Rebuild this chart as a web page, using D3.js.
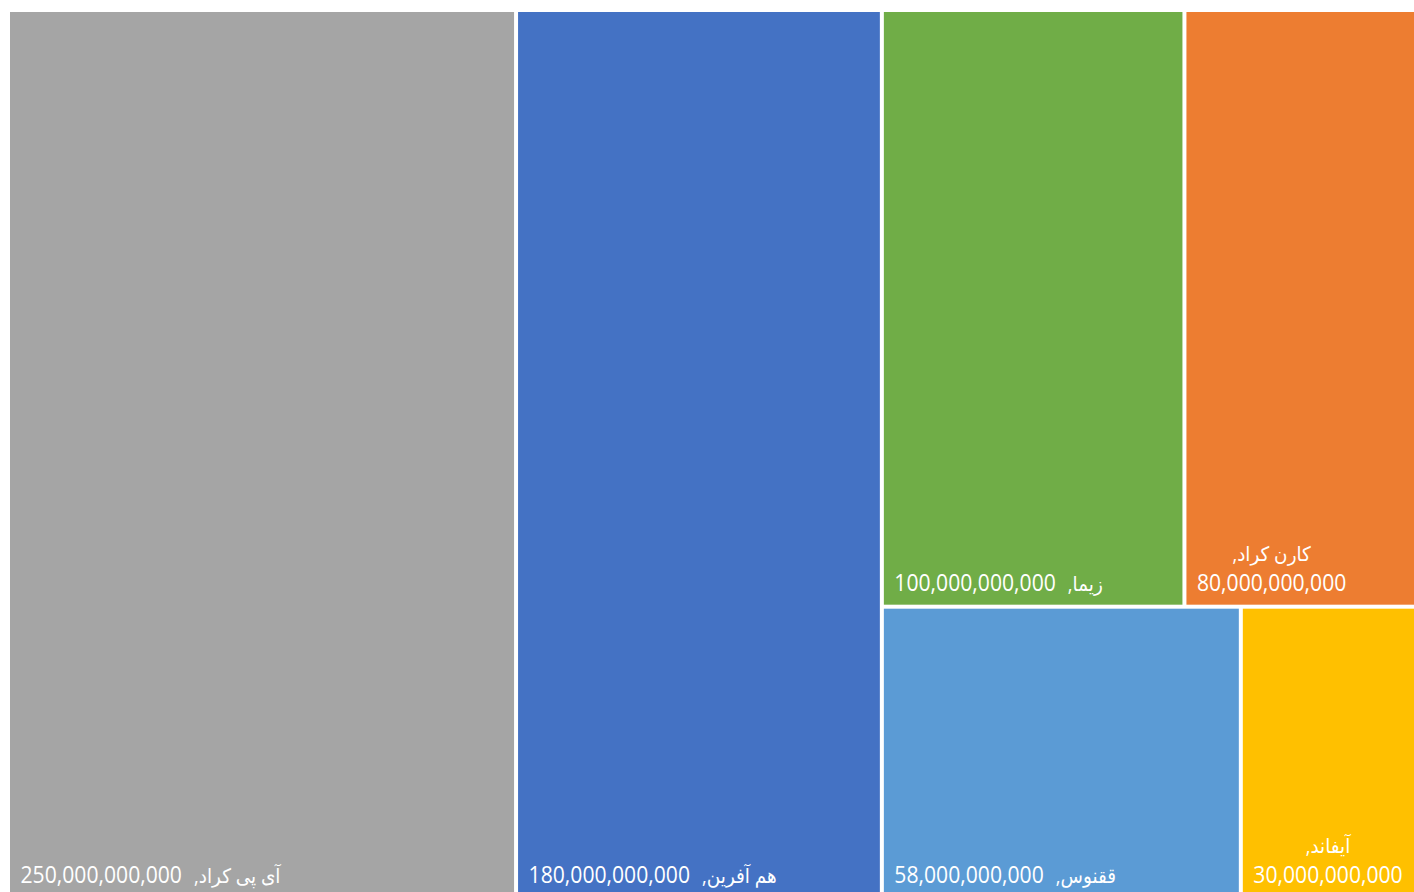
<!DOCTYPE html>
<html>
<head>
<meta charset="utf-8">
<script src="https://cdn.jsdelivr.net/npm/d3@7"></script>
<style>
  html, body { margin: 0; padding: 0; background: #ffffff; overflow: hidden; }
  svg { display: block; }
  text { font-family: 'Open Sans', 'DejaVu Sans', sans-serif; fill: #ffffff; }
</style>
</head>
<body>
<svg id="chart" width="1414" height="892"></svg>
<script>
// ---- data ----
const categories = ["آی پی کراد", "هم آفرین", "زیما", "کارن کراد", "ققنوس", "آیفاند"];
const values = [250000000000, 180000000000, 100000000000, 80000000000, 58000000000, 30000000000];
const colors = ["#A5A5A5", "#4472C4", "#70AD47", "#ED7D31", "#5B9BD5", "#FFC000"];
// nesting of the tiles (indexes into the arrays above)
const nesting = [0, 1, [[2, 3], [4, 5]]];

// ---- build hierarchy ----
function build(item) {
  if (Array.isArray(item)) return { children: item.map(build) };
  return { name: categories[item], value: values[item], color: colors[item] };
}
const root = d3.hierarchy({ children: nesting.map(build) })
  .sum(d => d.value || 0);

const W = 1414.5, H = 884.4, X0 = 10, Y0 = 12;
const tile = (node, x0, y0, x1, y1) =>
  (node.depth % 2 === 0 ? d3.treemapDice : d3.treemapSlice)(node, x0, y0, x1, y1);

d3.treemap().size([W, H]).paddingInner(4).tile(tile)(root);

const svg = d3.select("#chart");
const g = svg.append("g").attr("transform", `translate(${X0},${Y0})`);

const leaves = root.leaves();
const fmt = d3.format(",");

const cell = g.selectAll("g.cell").data(leaves).join("g").attr("class", "cell");
cell.append("rect")
  .attr("x", d => d.x0).attr("y", d => d.y0)
  .attr("width", d => d.x1 - d.x0).attr("height", d => d.y1 - d.y0)
  .attr("fill", d => d.data.color);

const FS = 23, FS_NAME = 20, SX = 0.92, PAD = 10.5, BOTTOM = 13.5, GAP = 12, LINE = 30;

cell.each(function(d) {
  const lab = d3.select(this).append("g")
    .attr("transform", `translate(${d.x0 + PAD},${d.y1 - BOTTOM}) scale(${SX},1)`);
  const num = lab.append("text").attr("x", 0).attr("y", 0)
    .attr("font-size", FS).text(fmt(d.data.value));
  const numW = num.node().getComputedTextLength();
  const name = lab.append("text").attr("y", 0).attr("font-size", FS_NAME)
    .text("," + d.data.name);
  const nameW = name.node().getComputedTextLength();
  const total = (numW + GAP / SX + nameW) * SX;
  if (total + 2 * PAD <= d.x1 - d.x0) {
    name.attr("x", numW + GAP / SX);
  } else {
    name.attr("x", numW / 2).attr("text-anchor", "middle").attr("y", -LINE);
  }
});
</script>
</body>
</html>
